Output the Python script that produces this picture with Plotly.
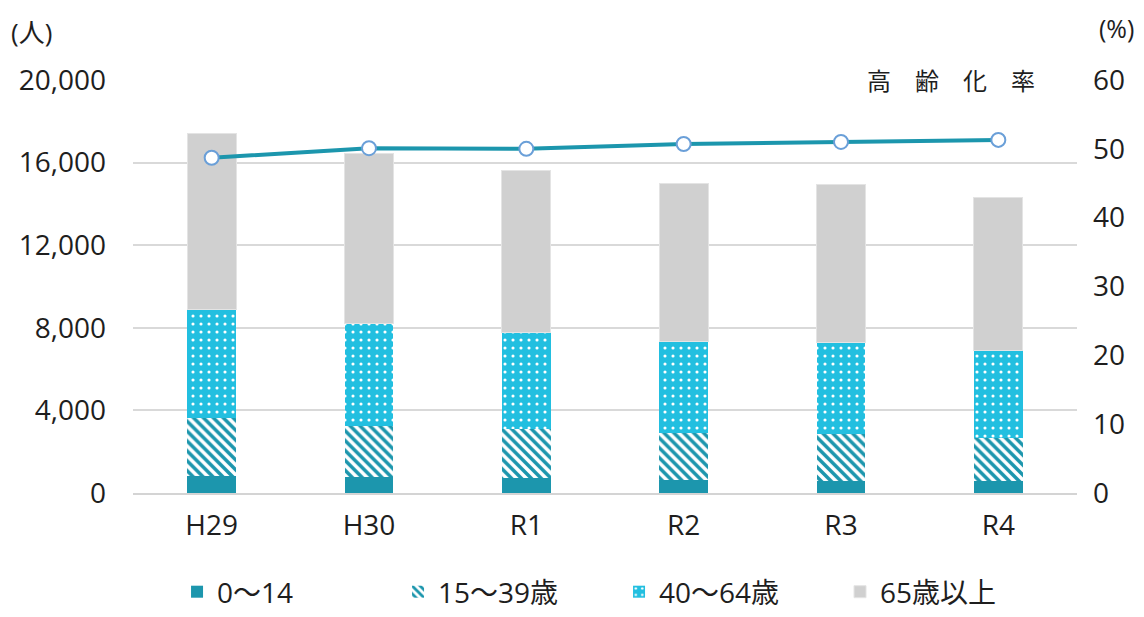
import plotly.graph_objects as go

years = ["H29", "H30", "R1", "R2", "R3", "R4"]
age_0_14 = [840, 790, 710, 630, 600, 565]
age_15_39 = [2780, 2470, 2375, 2260, 2255, 2085]
age_40_64 = [5280, 4925, 4710, 4470, 4455, 4275]
age_65_over = [8490, 8265, 7845, 7620, 7620, 7375]
aging_rate = [48.7, 50.1, 50.0, 50.7, 51.0, 51.3]

FONT = "Open Sans, Noto Sans CJK JP"
TXT = "#1e1e1e"

fig = go.Figure()
fig.add_trace(go.Bar(x=years, y=age_0_14, name="0～14",
                     marker=dict(color="#1c96ad", line=dict(width=0))))
fig.add_trace(go.Bar(x=years, y=age_15_39, name="15～39歳",
                     marker=dict(color="#1c96ad", line=dict(width=0),
                                 pattern=dict(shape="\\", fillmode="replace", bgcolor="white",
                                              fgcolor="#1c96ad", size=7, solidity=0.5))))
fig.add_trace(go.Bar(x=years, y=age_40_64, name="40～64歳",
                     marker=dict(color="#22bfe0", line=dict(width=0),
                                 pattern=dict(shape=".", fillmode="overlay", bgcolor="#22bfe0",
                                              fgcolor="white", fgopacity=1, size=8, solidity=0.12))))
fig.add_trace(go.Bar(x=years, y=age_65_over, name="65歳以上",
                     marker=dict(color="#d0d0d0", line=dict(width=1, color="#e4e4e4"))))
fig.add_trace(go.Scatter(x=years, y=aging_rate, name="高齢化率", yaxis="y2", mode="lines+markers",
                         line=dict(color="#1c96ad", width=4),
                         marker=dict(size=14, color="white", line=dict(color="#6a9fd8", width=2)),
                         showlegend=False))

fig.update_layout(
    width=1136, height=609,
    margin=dict(l=125, r=67, t=72, b=124, autoexpand=False),
    plot_bgcolor="white", paper_bgcolor="white",
    barmode="stack", bargap=0.69,
    font=dict(family=FONT, size=28, color=TXT),
    xaxis=dict(showgrid=False, showline=True, linecolor="#d4d4d4", linewidth=2,
               ticks="", tickfont=dict(size=28), ticklabelstandoff=6),
    yaxis=dict(range=[0, 20000], tickvals=[0, 4000, 8000, 12000, 16000, 20000],
               tickformat=",", showgrid=True, gridcolor="#d9d9d9", gridwidth=1.5,
               zeroline=False, showline=False, ticks="", ticklabelstandoff=26,
               tickfont=dict(size=28)),
    yaxis2=dict(range=[0, 60], tickvals=[0, 10, 20, 30, 40, 50, 60], overlaying="y",
                side="right", showgrid=False, zeroline=False, showline=False, ticks="",
                ticklabelstandoff=15, tickfont=dict(size=28)),
    legend=dict(orientation="h", xref="container", yref="container",
                x=0.1488, y=0.0, xanchor="left", yanchor="bottom",
                font=dict(size=28), entrywidth=176, entrywidthmode="pixels",
                traceorder="normal", itemclick=False),
    annotations=[
        dict(text="(人)", xref="paper", yref="paper", x=-0.131, y=1.116, xanchor="left",
             yanchor="middle", showarrow=False, font=dict(size=26)),
        dict(text="(%)", xref="paper", yref="paper", x=1.0625, y=1.172, xanchor="right",
             yanchor="top", showarrow=False, font=dict(size=25)),
        dict(text="高\u3000齢\u3000化\u3000率", xref="paper", yref="paper", x=0.866, y=1.0,
             xanchor="center", yanchor="middle", showarrow=False, font=dict(size=24)),
    ],
)

fig.write_html("out.html")
